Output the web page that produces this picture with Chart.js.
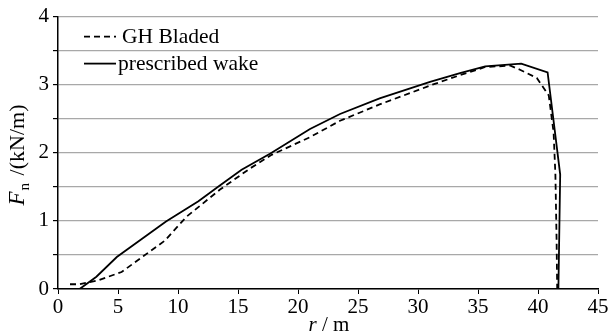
<!DOCTYPE html>
<html>
<head>
<meta charset="utf-8">
<script src="https://cdn.jsdelivr.net/npm/chart.js@4"></script>
<style>
  html, body { margin: 0; padding: 0; background: #fff; }
  #wrap { width: 612px; height: 335px; }
</style>
</head>
<body>
<div id="wrap"><canvas id="fnChart" width="612" height="335"></canvas></div>
<script>
/* --------- DATA --------- */
const bladedR = [1.0, 1.8, 3.4, 5.3, 7.1, 8.9, 10.7, 13.5, 16.0, 17.8, 21.0, 23.5, 26.8, 31.2, 33.5, 35.6, 37.7, 38.5, 39.9, 40.9, 41.3, 41.45, 41.55, 41.6];
const bladedF = [0.07, 0.07, 0.13, 0.25, 0.48, 0.71, 1.06, 1.46, 1.77, 1.97, 2.23, 2.47, 2.71, 3.0, 3.14, 3.26, 3.28, 3.22, 3.1, 2.84, 2.3, 1.68, 0.71, 0];

const wakeR = [1.8, 3.2, 4.9, 9.0, 11.7, 13.4, 15.3, 17.7, 21.0, 23.5, 26.8, 31.0, 33.5, 35.6, 38.6, 40.8, 41.85, 41.7];
const wakeF = [0, 0.18, 0.47, 0.99, 1.29, 1.51, 1.75, 1.99, 2.35, 2.57, 2.8, 3.04, 3.17, 3.27, 3.31, 3.18, 1.68, 0];

const seriesNames = ["GH Bladed", "prescribed wake"];
const xTicks = [0, 5, 10, 15, 20, 25, 30, 35, 40, 45];
const yLabels = ["0", "1", "2", "3", "4"];

const FONT = "'Liberation Serif', 'Times New Roman', serif";

/* --------- HELPERS --------- */
function toPoints(xs, ys) {
  return xs.map((x, i) => ({ x, y: ys[i] }));
}

/* --------- LEGEND + AXIS TITLES --------- */
const decorPlugin = {
  id: "decor",
  afterDraw(chart) {
    const { ctx, chartArea } = chart;
    ctx.save();
    ctx.fillStyle = "#000";
    ctx.strokeStyle = "#000";

    // legend in the top-left of the plot
    chart.data.datasets.forEach((ds, i) => {
      const y = chartArea.top + 20 + i * 27;
      const x0 = chartArea.left + 26;
      ctx.lineWidth = ds.borderWidth;
      ctx.setLineDash(ds.borderDash || []);
      ctx.beginPath();
      ctx.moveTo(x0, y);
      ctx.lineTo(x0 + 32, y);
      ctx.stroke();
      ctx.setLineDash([]);
      ctx.font = `21.5px ${FONT}`;
      ctx.textBaseline = "middle";
      ctx.textAlign = "left";
      ctx.fillText(ds.label, x0 + (i === 0 ? 38 : 34), y + 1);
    });

    // x title: r / m
    const xs = chart.scales.x;
    const cx = (xs.left + xs.right) / 2 + 1;
    ctx.textBaseline = "alphabetic";
    ctx.font = `italic 21px ${FONT}`;
    const rW = ctx.measureText("r").width;
    ctx.font = `21px ${FONT}`;
    const restW = ctx.measureText(" / m").width;
    const tx = cx - (rW + restW) / 2;
    ctx.font = `italic 21px ${FONT}`;
    ctx.fillText("r", tx, 331);
    ctx.font = `21px ${FONT}`;
    ctx.fillText(" / m", tx + rW, 331);

    // y title: F_n /(kN/m), rotated
    ctx.translate(24, 155);
    ctx.rotate(-Math.PI / 2);
    ctx.font = `italic 23px ${FONT}`;
    const fW = ctx.measureText("F").width;
    ctx.font = `15px ${FONT}`;
    const nW = ctx.measureText("n").width;
    ctx.font = `22px ${FONT}`;
    const uW = ctx.measureText(" /(kN/m)").width;
    const ty = -(fW + nW + 3 + uW) / 2;
    ctx.font = `italic 23px ${FONT}`;
    ctx.fillText("F", ty, 0);
    ctx.font = `15px ${FONT}`;
    ctx.fillText("n", ty + fW + 1, 5);
    ctx.font = `22px ${FONT}`;
    ctx.fillText(" /(kN/m)", ty + fW + nW + 3, 0);
    ctx.restore();
  }
};

/* --------- CHART --------- */
new Chart(document.getElementById("fnChart"), {
  type: "scatter",
  data: {
    datasets: [
      {
        label: seriesNames[0],
        data: toPoints(bladedR, bladedF),
        showLine: true,
        borderColor: "#000",
        borderWidth: 1.8,
        borderDash: [6, 4],
        pointRadius: 0,
        tension: 0
      },
      {
        label: seriesNames[1],
        data: toPoints(wakeR, wakeF),
        showLine: true,
        borderColor: "#000",
        borderWidth: 1.8,
        pointRadius: 0,
        tension: 0
      }
    ]
  },
  options: {
    responsive: false,
    animation: false,
    layout: { padding: { top: 14, right: 14, left: 0, bottom: 0 } },
    plugins: {
      legend: { display: false },
      tooltip: { enabled: false }
    },
    scales: {
      x: {
        type: "linear",
        min: 0,
        max: 45,
        afterBuildTicks: s => { s.ticks = xTicks.map(v => ({ value: v })); },
        afterFit: s => { s.height = 46; },
        grid: { drawOnChartArea: false, drawTicks: true, tickLength: 5, tickColor: "#000" },
        border: { color: "#000", width: 1.5 },
        ticks: { color: "#000", padding: 1, maxRotation: 0, font: { family: FONT, size: 21 } }
      },
      y: {
        min: 0,
        max: 4,
        afterFit: s => { s.width = 58; },
        ticks: {
          stepSize: 0.5,
          color: "#000",
          padding: 4,
          font: { family: FONT, size: 21 },
          callback: v => (Number.isInteger(v) ? yLabels[v] : "")
        },
        grid: { color: "#a8a8a8", lineWidth: 1.2, tickLength: 5, tickColor: "#000" },
        border: { color: "#000", width: 1.5 }
      }
    }
  },
  plugins: [decorPlugin]
});
</script>
</body>
</html>
